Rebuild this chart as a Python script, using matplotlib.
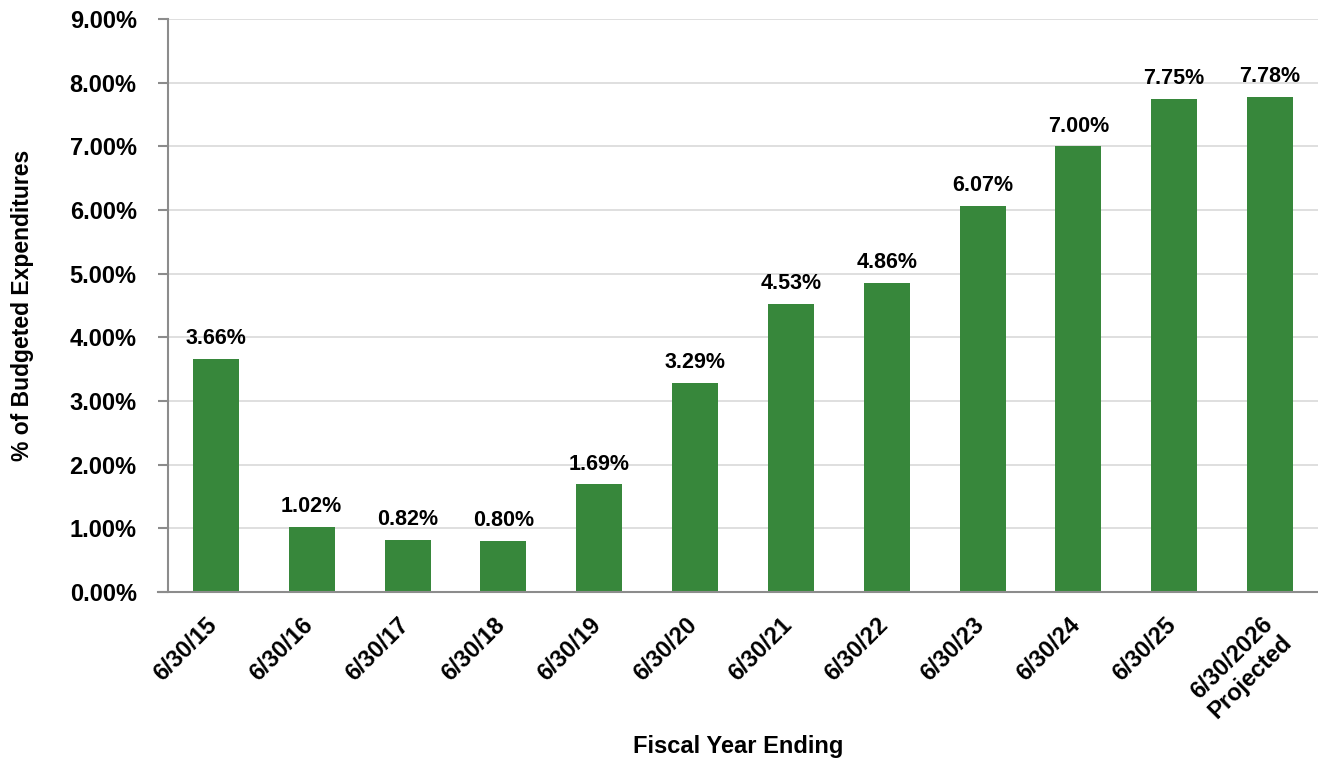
import matplotlib
matplotlib.use('Agg')
import matplotlib.pyplot as plt
import matplotlib.transforms as mtransforms
from matplotlib.ticker import FuncFormatter

plt.rcParams['font.family'] = ['Liberation Sans', 'DejaVu Sans']
plt.rcParams['font.weight'] = 'bold'

# fund balance as share of budgeted expenditures
years = ['6/30/15', '6/30/16', '6/30/17', '6/30/18', '6/30/19', '6/30/20',
         '6/30/21', '6/30/22', '6/30/23', '6/30/24', '6/30/25',
         '6/30/2026\nProjected']
pct = [3.66, 1.02, 0.82, 0.80, 1.69, 3.29, 4.53, 4.86, 6.07, 7.00, 7.75, 7.78]

bar_color = '#37873b'
axis_grey = '#8c8c8c'

fig = plt.figure(figsize=(13.18, 7.59), dpi=100)
ax = fig.add_axes([158 / 1318, 0.22, 1 - 158 / 1318, 0.755])

x = range(len(years))
ax.bar(x, pct, width=0.48, color=bar_color, zorder=3)

# value labels above each bar
for xi, v in zip(x, pct):
    ax.annotate('%.2f%%' % v, xy=(xi, v), xytext=(0, 7),
                textcoords='offset points', ha='center', va='bottom',
                fontsize=15.5, fontweight='bold')

ax.set_xlim(-0.604, len(years) - 0.5)
ax.set_ylim(0, 9)
ax.set_yticks(range(10))
ax.yaxis.set_major_formatter(FuncFormatter(lambda v, p: '%.2f%%' % v))
ax.grid(axis='y', color='#d9d9d9', linewidth=1.2, zorder=0)

ax.set_xticks(list(x))
ax.set_xticklabels(years, rotation=45, ha='right', va='center',
                   rotation_mode='anchor', multialignment='center')
ax.tick_params(axis='x', length=0, pad=21, labelsize=17)
ax.tick_params(axis='y', length=7.5, width=1.5, color=axis_grey, pad=15,
               labelsize=17)

# nudge the rotated labels; the two-line one hangs from its first line
labels = ax.get_xticklabels()
for lab in labels[:-1]:
    lab.set_transform(lab.get_transform() +
                      mtransforms.ScaledTranslation(-2 / 100, 0,
                                                    fig.dpi_scale_trans))
labels[-1].set_transform(labels[-1].get_transform() +
                         mtransforms.ScaledTranslation(9 / 100, -8 / 100,
                                                       fig.dpi_scale_trans))

for side in ['top', 'right']:
    ax.spines[side].set_visible(False)
ax.spines['left'].set_color(axis_grey)
ax.spines['left'].set_linewidth(1.5)
ax.spines['left'].set_position(('data', -0.5))
ax.spines['bottom'].set_color(axis_grey)
ax.spines['bottom'].set_linewidth(1.5)
ax.spines['left'].set_zorder(4)
ax.spines['bottom'].set_zorder(4)

ax.set_ylabel('% of Budgeted Expenditures', fontsize=16.5, fontweight='bold')
ax.yaxis.set_label_coords(-124 / 1160, 0.5)
ax.set_xlabel('Fiscal Year Ending', fontsize=17, fontweight='bold')
ax.xaxis.set_label_coords(0.5, -143 / 573)

fig.savefig('out.png', dpi=100)
